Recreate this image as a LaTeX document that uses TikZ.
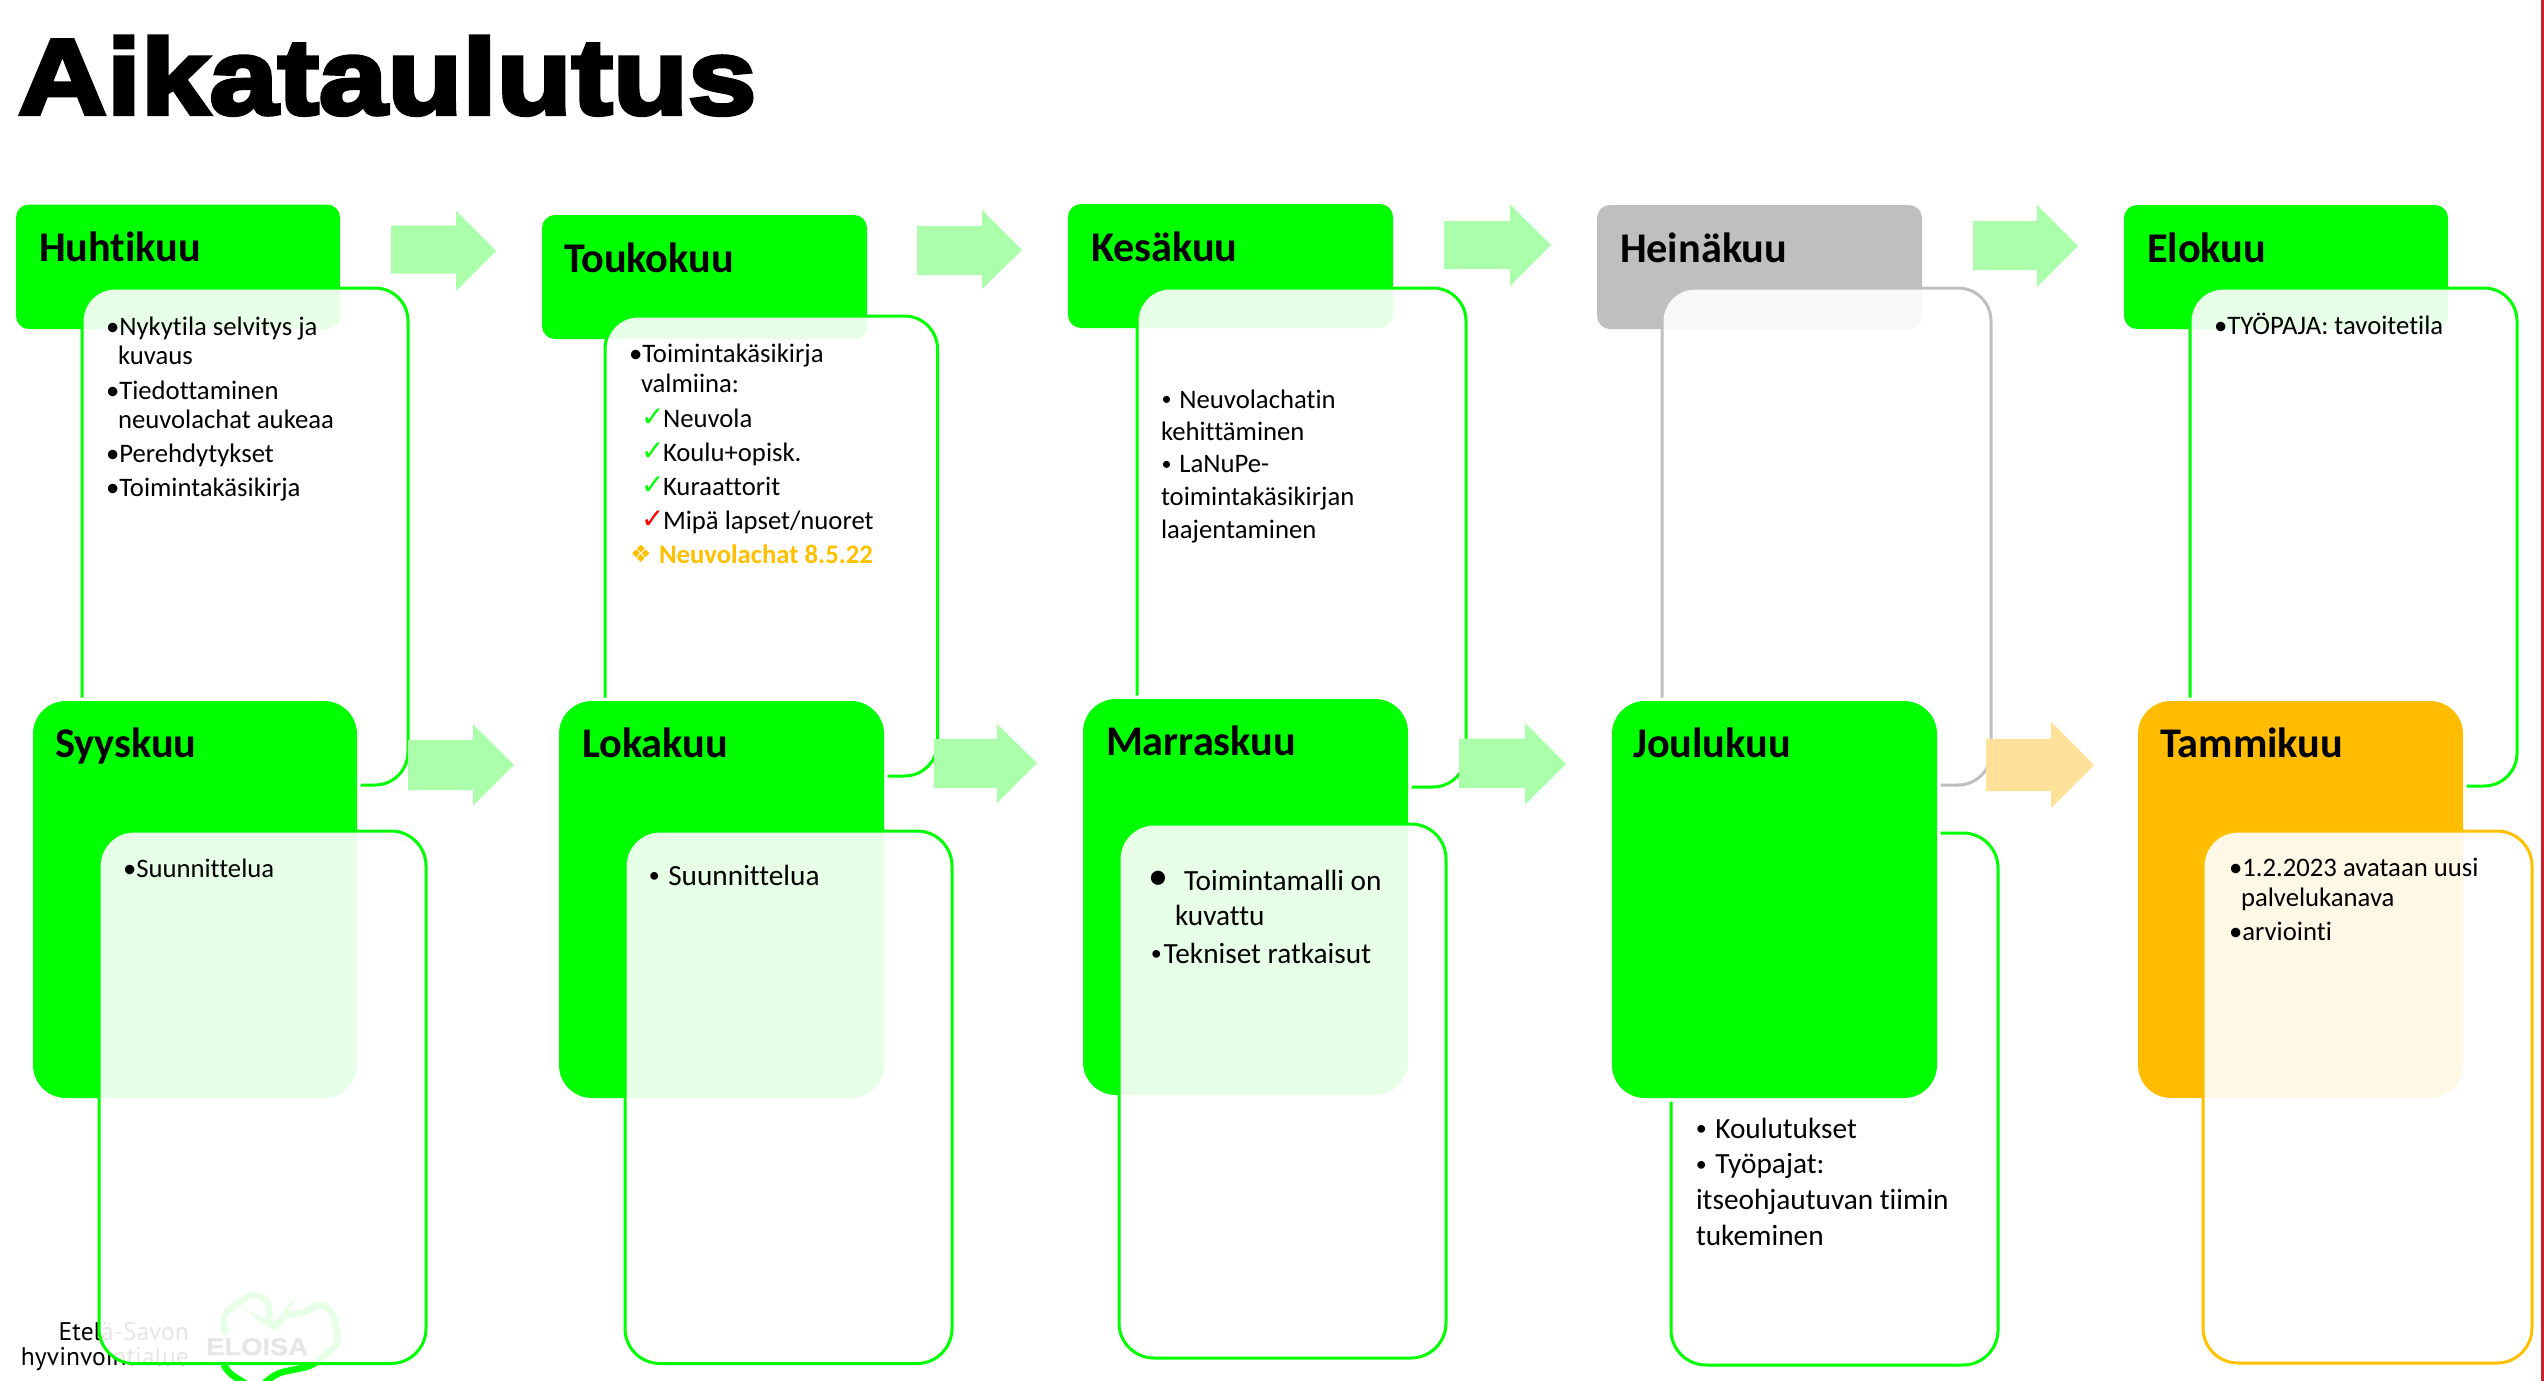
\documentclass[tikz,border=0pt]{standalone}
\usepackage{fontspec}
\setmainfont{Carlito}[Ligatures=NoCommon]
\newfontfamily\djvfont{DejaVu Sans}
\newfontfamily\titlefont[FakeBold=4,FakeStretch=1.15]{Liberation Sans Bold}
\newfontfamily\eloisafont[FakeBold=1,FakeStretch=1.14]{Liberation Sans Bold}
\newfontfamily\logofont{PT Sans}
\definecolor{grn}{HTML}{00FF00}
\definecolor{org}{HTML}{FFBC00}
\definecolor{gry}{HTML}{BFBFBF}
\definecolor{arrg}{HTML}{ABFFAB}
\definecolor{arro}{HTML}{FFE19A}
\definecolor{redl}{HTML}{C8202F}
\definecolor{ltxt}{HTML}{FFC000}
\newcommand\sbul{\makebox[.5em][c]{\raisebox{.08em}{\scalebox{.75}{•}}}}
\tikzset{
  lbl/.style={anchor=base west,inner sep=0pt,outer sep=0pt,font=\fontsize{26.7}{30}\selectfont},
  lblb/.style={lbl,font=\fontsize{29.3}{33}\selectfont},
  hd/.style={lbl,font=\bfseries\fontsize{42.3}{50}\selectfont},
  chk/.style={lbl,font=\djvfont\fontsize{28}{30}\selectfont},
  bodybox/.style={line width=3pt,fill=white,fill opacity=.9},
  logoline/.style={draw=grn,line width=6.5pt,rounded corners=8pt,line cap=round},
  logotxt/.style={anchor=base east,inner sep=0pt,font=\logofont\fontsize{25.5}{30}\selectfont},
}
% x0 y0 x1 y1 radius colour
\newcommand\headbox[6]{\fill[#6,rounded corners=#5pt] (#1,#2) rectangle (#3,#4);}
\newcommand\halobox[6]{\draw[white,line width=7pt,rounded corners=#5pt] (#1,#2) rectangle (#3,#4);\fill[#6,rounded corners=#5pt] (#1,#2) rectangle (#3,#4);}
\newcommand\bodyb[6]{\path[bodybox,draw=#6,rounded corners=#5pt] (#1,#2) rectangle (#3,#4);}
% colour x0 shaftTop shaftBot headBaseX headTop headBot tipX tipY
\newcommand\blockarrow[9]{\fill[#1] (#2,#3) -- (#5,#3) -- (#5,#6) -- (#8,#9) -- (#5,#7) -- (#5,#4) -- (#2,#4) -- cycle;}
\begin{document}
\begin{tikzpicture}[x=1pt,y=-1pt]
\useasboundingbox (0,0) rectangle (2544,1381);
% title
\node[lbl,font=\titlefont\fontsize{107}{120}\selectfont] (title) at (18,114) {Aikataulutus};
% logo (sits under the first lower panel)
\node[logotxt] (logoa) at (189,1340) {Etelä-Savon};
\node[logotxt] (logob) at (189,1365) {hyvinvointialue};
\node[anchor=base west,inner sep=0pt,font=\eloisafont\fontsize{24}{28}\selectfont] (logoc) at (206,1355) {ELOISA};
\path[logoline] (225,1332) -- (223,1314) -- (253,1293) -- (270,1302) -- (268,1323) -- (276,1329) -- (283,1315) -- (305,1313) -- (320,1303) -- (333,1312) -- (339,1343) -- (312,1366) -- (277,1373) -- (262,1385);
\path[logoline] (224,1365) -- (227,1372) -- (248,1385);
% upper row
\headbox{16}{204.5}{340}{329}{13}{grn}
\bodyb{82}{288}{408}{785}{33}{grn}
\headbox{542}{215}{867}{339}{13}{grn}
\bodyb{605}{316}{937.5}{776}{33}{grn}
\headbox{1068}{204}{1393}{328}{13}{grn}
\bodyb{1137}{288}{1466}{787}{33}{grn}
\headbox{1597}{205}{1922}{329}{13}{gry}
\bodyb{1662}{288}{1991}{785}{33}{gry}
\headbox{2124}{205}{2448}{329}{13}{grn}
\bodyb{2190}{288}{2517}{786}{33}{grn}
% lower row
\halobox{33}{701}{357}{1098}{33}{grn}
\bodyb{99}{831}{426}{1363.5}{35}{grn}
\halobox{559}{701}{884}{1098}{33}{grn}
\bodyb{625}{831}{952}{1363.5}{35}{grn}
\halobox{1083}{699}{1408}{1095}{33}{grn}
\bodyb{1119}{824}{1446}{1358}{35}{grn}
\bodyb{1671}{833}{1998}{1365}{35}{grn}
\halobox{1612}{701}{1937}{1098}{33}{grn}
\halobox{2138}{701}{2463}{1098}{33}{org}
\bodyb{2203}{831}{2532}{1363}{35}{ltxt}
% block arrows
\blockarrow{arrg}{391}{225.5}{273.5}{456}{210.5}{291}{496}{251}
\blockarrow{arrg}{917}{226}{275}{982}{210}{289}{1022}{250}
\blockarrow{arrg}{1444}{221}{269}{1510}{204.5}{286}{1551}{245}
\blockarrow{arrg}{1973}{221}{270}{2037}{205}{287}{2078}{246}
\blockarrow{arrg}{408}{740}{790}{473}{724}{805.5}{514}{765}
\blockarrow{arrg}{934}{739}{788}{997}{724}{803}{1037}{763}
\blockarrow{arrg}{1459}{738.5}{788}{1525}{723}{804.5}{1566}{764}
\blockarrow{arro}{1986}{739}{791}{2051}{722}{808}{2094}{765}
% red edge
\fill[redl] (2541,0) rectangle (2544,1381);
% headers
\node[hd] (h1) at (39,261.5) {Huhtikuu};
\node[hd] (h2) at (564,272) {Toukokuu};
\node[hd] (h3) at (1091,261) {Kesäkuu};
\node[hd] (h4) at (1620,262) {Heinäkuu};
\node[hd] (h5) at (2147,262) {Elokuu};
\node[hd] (h6) at (55,757.5) {Syyskuu};
\node[hd] (h7) at (582,757) {Lokakuu};
\node[hd] (h8) at (1106,755.5) {Marraskuu};
\node[hd] (h9) at (1633,757) {Joulukuu};
\node[hd] (h10) at (2160,757) {Tammikuu};
% Huhtikuu
\node[lbl] (a1) at (106,335) {•Nykytila selvitys ja};
\node[lbl] (a2) at (118,364.5) {kuvaus};
\node[lbl] (a3) at (106,399) {•Tiedottaminen};
\node[lbl] (a4) at (118,428) {neuvolachat aukeaa};
\node[lbl] (a5) at (106,462) {•Perehdytykset};
\node[lbl] (a6) at (106,496) {•Toimintakäsikirja};
% Toukokuu
\node[lbl] (b1) at (629,362.5) {•Toimintakäsikirja};
\node[lbl] (b2) at (641,392) {valmiina:};
\node[chk,text=grn] (c1) at (641,426) {✓};
\node[lbl] (b3) at (663,427) {Neuvola};
\node[chk,text=grn] (c2) at (641,460) {✓};
\node[lbl] (b4) at (663,461) {Koulu+opisk.};
\node[chk,text=grn] (c3) at (641,494) {✓};
\node[lbl] (b5) at (663,495) {Kuraattorit};
\node[chk,text=red] (c4) at (641,528) {✓};
\node[lbl] (b6) at (663,529) {Mipä lapset/nuoret};
\node[lbl,font=\djvfont\fontsize{24}{30}\selectfont,text=ltxt] (c5) at (630,562) {❖};
\node[lbl,font=\bfseries\fontsize{26.7}{30}\selectfont,text=ltxt] (b7) at (659,563) {Neuvolachat 8.5.22};
% Kesakuu
\node[lbl] (d1) at (1160,408) {\sbul{} Neuvolachatin};
\node[lbl] (d2) at (1161,440) {kehittäminen};
\node[lbl] (d3) at (1160,472.5) {\sbul{} LaNuPe-};
\node[lbl] (d4) at (1161,505) {toimintakäsikirjan};
\node[lbl] (d5) at (1161,538) {laajentaminen};
% Elokuu
\node[lbl] (e1) at (2214,334) {•TYÖPAJA: tavoitetila};
% Syyskuu, Lokakuu
\node[lbl] (f1) at (123,877) {•Suunnittelua};
\node[lbl,font=\fontsize{29.3}{33}\selectfont] (g1) at (647,885) {\sbul{} Suunnittelua};
% Marraskuu
\node[lbl,font=\fontsize{40}{44}\selectfont] (i0) at (1148,889) {•};
\node[lblb] (i1) at (1184,890.5) {Toimintamalli on};
\node[lblb] (i2) at (1175,925) {kuvattu};
\node[lblb] (i3) at (1149,963) {\sbul{}Tekniset ratkaisut};
% Joulukuu
\node[lblb] (j1) at (1694,1138) {\sbul{} Koulutukset};
\node[lblb] (j2) at (1694,1173.5) {\sbul{} Työpajat:};
\node[lblb] (j3) at (1696,1209.5) {itseohjautuvan tiimin};
\node[lblb] (j4) at (1696,1245) {tukeminen};
% Tammikuu
\node[lbl] (k1) at (2229,876.5) {•1.2.2023 avataan uusi};
\node[lbl] (k2) at (2241,906) {palvelukanava};
\node[lbl] (k3) at (2229,940.5) {•arviointi};
\end{tikzpicture}
\end{document}
